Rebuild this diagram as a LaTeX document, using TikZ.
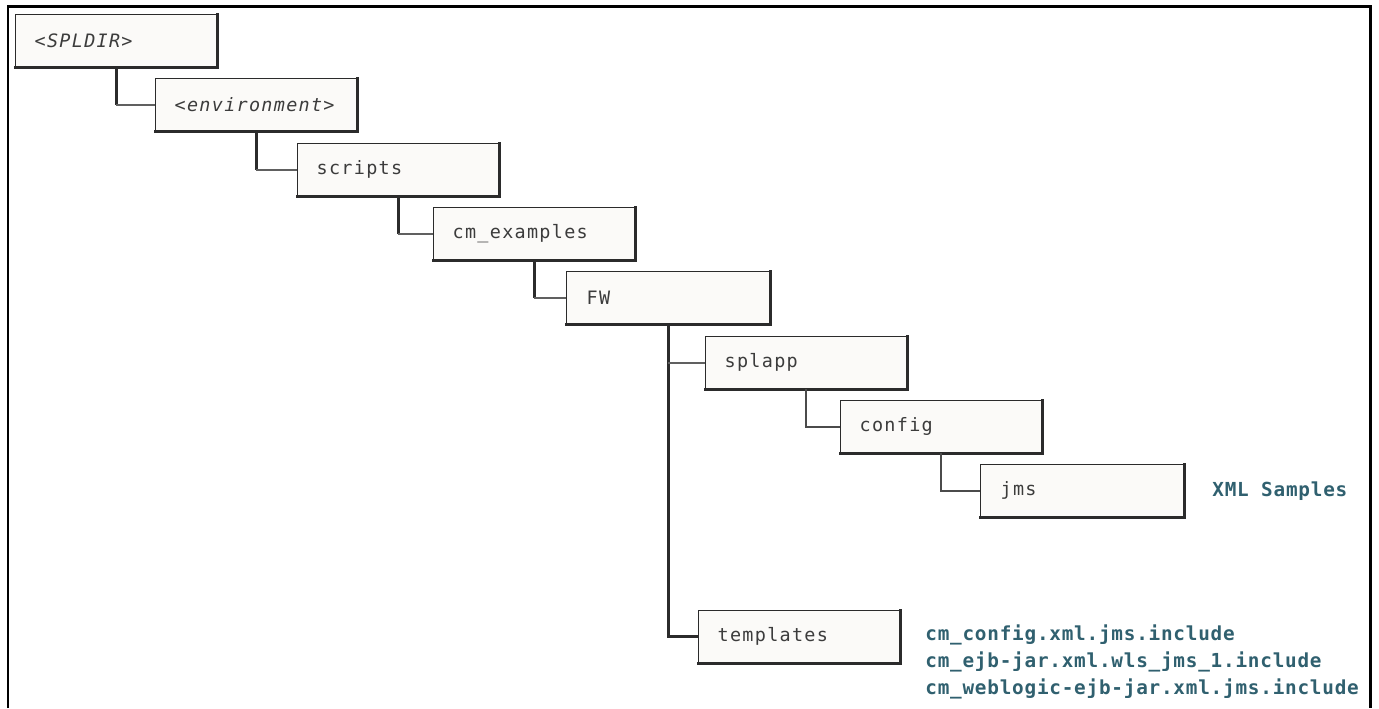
\documentclass[tikz,border=0pt]{standalone}
\usepackage{fontspec}
\setmonofont{DejaVu Sans Mono}
\newfontfamily\dirfont[LetterSpace=7]{DejaVu Sans Mono}
\newfontfamily\notefont[LetterSpace=4]{DejaVu Sans Mono}
\usetikzlibrary{positioning,calc}
\definecolor{ink}{HTML}{2B2B2B}
\definecolor{label}{HTML}{3C3C3C}
\definecolor{paper}{HTML}{FBFAF8}
\definecolor{note}{HTML}{30606F}
\tikzset{
  dirbox/.style={rectangle, draw=ink, fill=paper, line width=0.8pt,
                 minimum width=4.02cm, minimum height=1.04cm, text width=3.26cm,
                 inner xsep=0.38cm, align=left, anchor=north west,
                 font=\dirfont\fontsize{10.5}{12}\selectfont, text=label},
  shade/.style={draw=ink, line width=1.7pt, line cap=rect},
  stem/.style={draw=ink, line width=1.7pt},
  twig/.style={draw=ink!75, line width=1.1pt},
  thin/.style={draw=ink!85, line width=0.9pt},
  notes/.style={font=\notefont\bfseries\fontsize{11}{15.6}\selectfont, text=note, align=left, inner sep=0pt},
  frame/.style={draw=black, line width=1.7pt}
}
\begin{document}
\begin{tikzpicture}[x=0.02cm, y=-0.02cm]
\useasboundingbox (0,0) rectangle (1379,708);
\draw[frame] (8,708) -- (8,6) -- (1370,6) -- (1370,708);

% --- directory chain
\node[dirbox] (spldir) at (15,14) {\itshape<SPLDIR>};
\node[dirbox] (env) at (155,78) {\itshape<environment>};
\node[dirbox] (scripts) at (297,143) {scripts};
\node[dirbox] (cmex) at (433,207) {cm\_examples};
\node[dirbox, minimum width=4.06cm] (fw) at (566,271) {FW};
\node[dirbox] (splapp) at (705,336) {splapp};
\node[dirbox] (config) at (840,400) {config};
\node[dirbox, minimum width=4.06cm] (jms) at (980,464) {jms};
\node[dirbox] (tmpl) at (698,610) {templates};

% --- heavy bottom and right edges
\foreach \n in {spldir,env,scripts,cmex,fw,splapp,config,jms,tmpl}
  \draw[shade] (\n.north east) -- (\n.south east) -- (\n.south west);

% --- tree links
\foreach \a/\b in {spldir/env,env/scripts,scripts/cmex,cmex/fw}{
  \draw[stem] (\a.south) -- (\a.south |- \b.west);
  \draw[twig] (\a.south |- \b.west) -- (\b.west);
}
\draw[stem] (fw.south) |- (tmpl.west);
\draw[twig] (fw.south |- splapp.west) -- (splapp.west);
\draw[thin] (splapp.south) |- (config.west);
\draw[thin] (config.south) |- (jms.west);

% --- notes
\node[notes, anchor=west] (xml) at (1212,491) {XML Samples};
\node[notes, anchor=north west] (incl) at (925,624)
  {cm\_config.xml.jms.include\\cm\_ejb-jar.xml.wls\_jms\_1.include\\cm\_weblogic-ejb-jar.xml.jms.include};
\end{tikzpicture}
\end{document}
